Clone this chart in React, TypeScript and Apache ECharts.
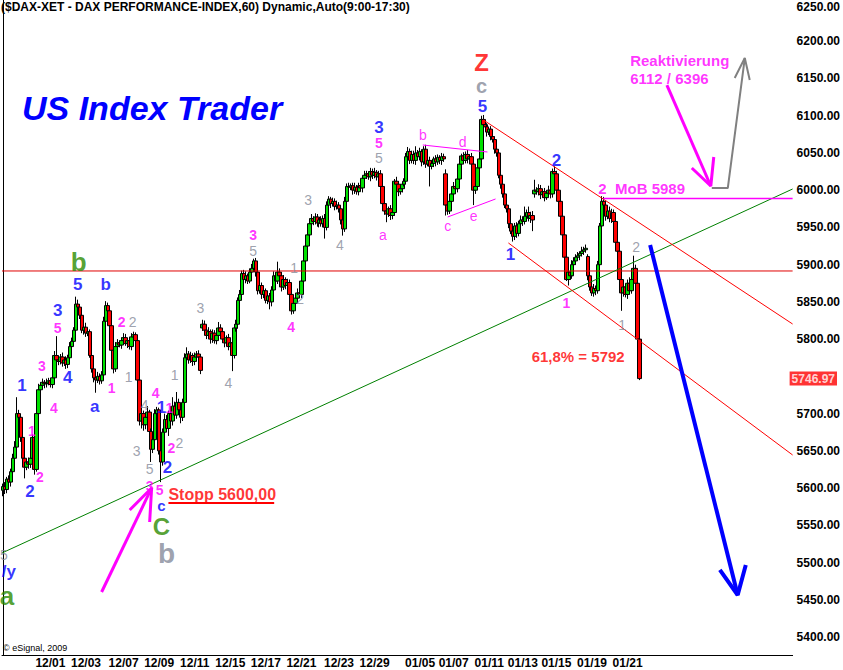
import React, { useEffect, useRef } from "react";
import * as echarts from "echarts";

const FONT = 'Arial, "Liberation Sans", sans-serif';

// hourly closes (one value per bar)
const closes = [
  5602, 5598, 5612, 5608, 5622, 5640, 5655, 5700, 5695, 5668,
  5640, 5628, 5635, 5632, 5640, 5668, 5625, 5700, 5732, 5738,
  5742, 5740, 5741, 5744, 5739, 5748, 5778, 5772, 5770, 5776,
  5768, 5772, 5766, 5775, 5790, 5797, 5812, 5847, 5843, 5832,
  5812, 5816, 5808, 5810, 5778, 5760, 5748, 5745, 5750, 5744,
  5752, 5824, 5845, 5838, 5818, 5785, 5760, 5790, 5795, 5792,
  5798, 5802, 5794, 5798, 5790, 5803, 5806, 5798, 5745, 5690,
  5700, 5685, 5695, 5702, 5676, 5652, 5665, 5700, 5705, 5650,
  5635, 5675, 5692, 5680, 5700, 5690, 5710, 5698, 5715, 5705,
  5695, 5715, 5775, 5780, 5772, 5778, 5770, 5776, 5780, 5776,
  5758, 5820, 5812, 5805, 5810, 5800, 5808, 5798, 5805, 5815,
  5810, 5800, 5795, 5802, 5790, 5795, 5778, 5815, 5820, 5852,
  5860, 5888, 5880, 5885, 5878, 5890, 5895, 5905, 5890, 5865,
  5872, 5860, 5865, 5852, 5858, 5850, 5866, 5885, 5878, 5890,
  5885, 5870, 5880, 5872, 5876, 5860, 5838, 5848, 5855, 5862,
  5860, 5878, 5905, 5925, 5940, 5955, 5962, 5958, 5964, 5956,
  5960, 5955, 5962, 5950, 5980, 5988, 5982, 5985, 5978, 5980,
  5975, 5960, 5948, 5985, 6005, 6004, 6006, 6000, 6004, 5998,
  6006, 6003, 6016, 6020, 6022, 6018, 6025, 6020, 6024, 6018,
  6022, 6005, 5982, 5972, 5968, 5975, 5966, 5970, 6012, 6008,
  5998, 6002, 6008, 6012, 6045, 6052, 6040, 6048, 6040, 6050,
  6045, 6052, 6038, 6055, 6035, 6040, 6032, 6036, 6042, 6038,
  6044, 6040, 6045, 6042, 5980, 5972, 5985, 5995, 6005, 6002,
  6015, 6035, 6046, 6040, 6048, 6042, 6045, 6035, 6000, 6005,
  6030, 6042, 6095, 6088, 6085, 6078, 6082, 6072, 6068, 6055,
  6050, 6020, 6008, 5995, 5980, 5975, 5955, 5945, 5938, 5952,
  5942, 5955, 5960, 5958, 5965, 5970, 5962, 5966, 5960, 6000,
  5998, 6002, 5994, 5998, 5990, 5996, 6000, 5995, 6025, 6022,
  6000, 5985, 5965, 5940, 5910, 5880, 5890, 5885, 5900, 5905,
  5910, 5912, 5915, 5918, 5920, 5922, 5885, 5870, 5862, 5868,
  5865, 5900, 5952, 5985, 5980, 5965, 5972, 5962, 5970, 5958,
  5930, 5918, 5880, 5862, 5870, 5860, 5875, 5865, 5880, 5895,
  5875, 5800, 5746.97,
];

// upper wick length above the body, per bar (points)
const wickUp = [
  4, 6, 3, 5, 4, 6, 8, 22, 5, 4,
  3, 5, 4, 6, 3, 4, 5, 6, 8, 4,
  5, 3, 6, 4, 3, 5, 6, 26, 5, 4,
  6, 3, 5, 4, 6, 5, 4, 10, 6, 4,
  5, 3, 6, 4, 3, 5, 4, 3, 6, 4,
  5, 6, 6, 4, 3, 5, 4, 6, 5, 3,
  4, 6, 5, 3, 4, 5, 4, 3, 4, 5,
  6, 4, 5, 8, 3, 4, 5, 6, 4, 3,
  4, 5, 8, 6, 4, 10, 12, 6, 14, 5,
  4, 5, 6, 9, 4, 5, 3, 6, 4, 5,
  3, 6, 5, 4, 6, 3, 5, 4, 6, 8,
  5, 4, 6, 3, 5, 4, 3, 5, 6, 4,
  6, 4, 5, 6, 3, 5, 6, 3, 4, 5,
  6, 4, 5, 3, 6, 4, 5, 6, 3, 14,
  5, 4, 6, 3, 5, 4, 3, 5, 4, 6,
  5, 4, 6, 5, 4, 5, 6, 3, 5, 4,
  3, 5, 4, 6, 5, 4, 3, 5, 4, 6,
  4, 3, 5, 6, 4, 5, 3, 4, 6, 3,
  4, 5, 3, 6, 4, 3, 5, 4, 6, 3,
  4, 5, 3, 4, 6, 3, 5, 4, 3, 6,
  4, 5, 3, 4, 5, 6, 4, 5, 5, 9,
  4, 5, 3, 4, 6, 3, 5, 4, 3, 5,
  4, 3, 5, 4, 6, 3, 5, 4, 6, 3,
  5, 4, 3, 5, 4, 6, 3, 5, 4, 3,
  5, 4, 5, 6, 4, 5, 3, 4, 5, 4,
  6, 4, 5, 3, 4, 5, 4, 3, 5, 4,
  5, 4, 6, 5, 13, 4, 8, 5, 6, 14,
  4, 6, 5, 3, 5, 4, 6, 5, 4, 7,
  4, 5, 3, 4, 5, 3, 5, 4, 6, 5,
  4, 5, 3, 6, 4, 5, 3, 4, 5, 6,
  4, 5, 4, 7, 6, 5, 4, 6, 5, 4,
  3, 4, 5, 3, 6, 4, 5, 8, 10, 17,
  5, 3, 2,
];

// lower wick length below the body, per bar (points)
const wickDn = [
  8, 6, 5, 4, 6, 5, 3, 4, 5, 6,
  5, 15, 4, 6, 5, 4, 7, 3, 4, 5,
  4, 6, 5, 3, 4, 5, 4, 6, 5, 4,
  5, 4, 6, 5, 4, 3, 5, 4, 3, 5,
  4, 6, 5, 4, 3, 5, 6, 17, 4, 5,
  4, 3, 5, 6, 4, 5, 6, 4, 5, 3,
  5, 4, 3, 6, 4, 5, 3, 4, 5, 6,
  10, 8, 6, 5, 4, 17, 5, 4, 3, 5,
  27, 5, 6, 4, 10, 5, 6, 4, 5, 6,
  8, 5, 4, 3, 5, 4, 6, 5, 4, 5,
  5, 4, 6, 5, 4, 6, 5, 4, 5, 6,
  4, 5, 6, 4, 5, 6, 21, 4, 5, 6,
  5, 4, 6, 5, 4, 3, 5, 4, 6, 5,
  4, 6, 5, 4, 5, 10, 6, 4, 5, 4,
  5, 6, 4, 5, 6, 4, 5, 4, 5, 6,
  4, 5, 3, 4, 5, 4, 6, 5, 4, 5,
  6, 4, 5, 15, 4, 5, 6, 4, 5, 4,
  5, 6, 9, 4, 5, 3, 4, 6, 5, 4,
  5, 4, 6, 3, 5, 4, 6, 5, 4, 5,
  4, 5, 6, 5, 11, 4, 6, 5, 4, 5,
  6, 4, 5, 3, 4, 6, 5, 4, 5, 6,
  4, 5, 6, 4, 5, 3, 27, 4, 5, 6,
  4, 5, 6, 4, 14, 5, 4, 6, 5, 4,
  5, 4, 6, 5, 4, 6, 5, 4, 20, 5,
  4, 6, 5, 4, 5, 6, 4, 5, 4, 6,
  5, 4, 6, 5, 4, 5, 6, 4, 7, 5,
  6, 4, 5, 6, 4, 5, 4, 6, 15, 5,
  4, 5, 6, 4, 5, 3, 4, 6, 5, 4,
  5, 4, 6, 5, 4, 2, 8, 5, 4, 6,
  5, 4, 6, 4, 5, 4, 6, 5, 4, 5,
  6, 4, 5, 4, 5, 6, 4, 5, 6, 4,
  5, 4, 6, 24, 5, 4, 6, 5, 4, 5,
  4, 6, 2,
];

const firstOpen = 5597;
const gapOpens: Record<number, number> = { 101: 5815, 224: 6022, 269: 5995, 296: 5911 };
const lastPrice = 5746.97;

const categoryCount = 400;
const dateLabels = ["12/01", "12/03", "12/07", "12/09", "12/11", "12/15", "12/17", "12/21", "12/23", "12/29", "01/05", "01/07", "01/11", "01/13", "01/15", "01/19", "01/21"];
const dateLabelIdx = [24, 42, 61, 79, 97, 115, 133, 151, 170, 188, 211, 228, 246, 263, 280, 298, 316];
const yTicks = [5400, 5450, 5500, 5550, 5600, 5650, 5700, 5800, 5850, 5900, 5950, 6000, 6050, 6100, 6150, 6200, 6250];

// annotations: [text, bar position, price]
type Ann = [string, number, number];
const blueWaves: Ann[] = [
  ["1", 9.6, 5738], ["2", 13.6, 5595], ["3", 27.7, 5838], ["5", 37.8, 5873], ["4", 32.8, 5748],
  ["a", 46.4, 5710], ["b", 52, 5874], ["1", 80.2, 5707.5], ["2", 83.2, 5627],
  ["3", 190.2, 6084.8], ["5", 242.6, 6113], ["2", 280, 6039.2], ["1", 256.7, 5913], ["/y", 3, 5488.5],
];
const blueSmall: Ann[] = [["c", 80.2, 5575.9]];
const pinkWaves: Ann[] = [
  ["1", 14.6, 5676.6], ["2", 18.7, 5614.9], ["3", 19.7, 5763.9], ["4", 25.7, 5707.5], ["5", 27.7, 5814.9],
  ["1", 55, 5734.4], ["2", 60, 5823], ["4", 77.2, 5727.7], ["1", 84.2, 5707.5], ["2", 85.2, 5653.8],
  ["3", 74.2, 5602.8], ["5", 79.2, 5597.3], ["3", 126.6, 5939.8], ["4", 145.8, 5816.3], ["5", 190.2, 6063.3],
  ["1", 285, 5848.5],
];
const pinkLetters: Ann[] = [
  ["a", 192.2, 5939.8], ["b", 212.4, 6074.1], ["d", 232.5, 6064.7], ["c", 225, 5951.9], ["e", 238.1, 5965.3],
];
const greyWaves: Ann[] = [
  ["1", 63.6, 5749.1], ["2", 65.6, 5823], ["3", 67.6, 5649.8], ["4", 71.6, 5711.5], ["5", 74.2, 5626],
  ["2", 89.3, 5660.5], ["1", 86.8, 5751.8], ["3", 99.9, 5841.8], ["4", 114, 5741], ["5", 126.6, 5918.4],
  ["1", 147.3, 5895.5], ["2", 150.3, 5853.9], ["3", 154.4, 5986.8], ["4", 170.5, 5926.4], ["5", 190.2, 6043.2],
  ["2", 320.3, 5923.7], ["1", 313.2, 5819], ["5", 0.5, 5510],
];
const greenBig: Ann[] = [["b", 38.3, 5903.6], ["a", 2.0, 5455]];
const greenC: Ann[] = [["C", 80.2, 5547.7]];
const greyBig: Ann[] = [["b", 82.7, 5511.5]];
const greyTopC: Ann[] = [["c", 242.1, 6139.9]];
const redBig: Ann[] = [["Z", 242.1, 6170.8]];
const redNoteCenter: Ann[] = [["61,8% = 5792", 291, 5776]];
const redNoteLeft: Ann[] = [["Stopp 5600,00", 83.7, 5590.7]];
const pinkNotesLeft: Ann[] = [
  ["2  MoB 5989", 301.2, 6002.9], ["Reaktivierung", 317.3, 6174.8], ["6112 / 6396", 317.3, 6150.6],
];
const priceTag: Ann[] = [["5746.97", 399.5, lastPrice]];

// lines: [bar position, price]
const horizLine = [[-0.5, 5891.5], [399.5, 5891.5]];
const greenTrend = [[-0.5, 5512.8], [399.5, 6001.6]];
const channelUpper = [[243.1, 6094.2], [399.5, 5820.3]];
const channelLower = [[255.7, 5929.1], [399.5, 5644.4]];
const triUpper = [[212.4, 6060.7], [245.1, 6051.3]];
const triLower = [[225, 5964], [249.2, 5988.2]];
const mobLine = [[303.7, 5989], [399.5, 5989]];
const stoppUnderline = [[83.7, 5580], [137.2, 5580]];
const pinkArrowTop = [[335.9, 6141.2], [358.1, 6005.6]];
const pinkArrowTopHead = [[348.5, 6029.8], [358.1, 6005.6], [359.6, 6044.6]];
const greyArrow = [[358.6, 6002.9], [366.7, 6002.9], [375.3, 6177.5]];
const greyArrowHead = [[370.2, 6150.6], [375.3, 6177.5], [377.8, 6147.9]];
const blueArrow = [[327.4, 5926.4], [371.7, 5456.4]];
const blueArrowHead = [[362.7, 5490], [371.7, 5456.4], [375.8, 5496.7]];
const pinkArrowLow = [[49.9, 5460.4], [75.2, 5600.1]];
const pinkArrowLowHead = [[64.1, 5570.5], [75.2, 5600.1], [74.2, 5554.4]];

function labelSeries(items: Ann[], style: any, position: string = "inside", distance: number = 0) {
  return {
    type: "scatter",
    xAxisIndex: 1,
    yAxisIndex: 0,
    symbolSize: 0,
    silent: true,
    clip: false,
    z: 6,
    data: items.map(([t, i, p]) => ({ name: t, value: [i, p] })),
    label: { show: true, position, distance, formatter: "{b}", fontFamily: FONT, lineHeight: style.fontSize, ...style },
    emphasis: { disabled: true },
  };
}

function segSeries(points: number[][], color: string, width: number) {
  return {
    type: "line",
    xAxisIndex: 1,
    yAxisIndex: 0,
    data: points,
    symbol: "none",
    silent: true,
    z: 4,
    lineStyle: { color, width },
    emphasis: { disabled: true },
  };
}

export default function App() {
  const ref = useRef<HTMLDivElement>(null);
  useEffect(() => {
    if (!ref.current) return;
    const chart = echarts.init(ref.current, null, { renderer: "svg" });

    const candles = closes.map((c, i) => {
      const o = i === 0 ? firstOpen : gapOpens[i] ?? closes[i - 1];
      const hi = Math.max(o, c) + wickUp[i];
      const lo = Math.min(o, c) - wickDn[i];
      return [o, c, lo, hi];
    });
    const cats = Array.from({ length: categoryCount }, (_, i) => String(i));
    const labelMap: Record<number, string> = {};
    dateLabelIdx.forEach((idx, k) => (labelMap[idx] = dateLabels[k]));

    const option: any = {
      animation: false,
      backgroundColor: "#ffffff",
      grid: { left: 0, right: 50, top: 0, bottom: 15, containLabel: false },
      xAxis: [
        {
          type: "category",
          data: cats,
          boundaryGap: true,
          axisLine: { show: true, lineStyle: { color: "#000", width: 1 } },
          axisTick: { show: false },
          splitLine: { show: false },
          axisLabel: {
            interval: 0,
            margin: 2,
            formatter: (_v: string, idx: number) => labelMap[idx] ?? "",
            color: "#000",
            fontWeight: "bold",
            fontSize: 12,
            fontFamily: FONT,
          },
        },
        { type: "value", min: -0.5, max: 399.5, show: false, splitLine: { show: false } },
      ],
      yAxis: {
        type: "value",
        position: "right",
        min: 5375.8,
        max: 6255.4,
        scale: true,
        splitLine: { show: false },
        axisLine: { show: true, lineStyle: { color: "#000", width: 1 } },
        axisTick: { show: false },
        axisLabel: {
          customValues: yTicks,
          margin: 4,
          color: "#000",
          fontWeight: "bold",
          fontSize: 12,
          fontFamily: FONT,
          formatter: (v: number) => (v === 6250 ? "{t|6250.00}" : v.toFixed(2)),
          rich: { t: { padding: [6, 0, 0, 0], color: "#000", fontWeight: "bold", fontSize: 12, fontFamily: FONT } },
        },
      },
      graphic: [
        {
          type: "text",
          x: 1,
          y: 1,
          style: {
            text: "($DAX-XET - DAX PERFORMANCE-INDEX,60) Dynamic,Auto(9:00-17:30)",
            fill: "#000",
            font: `bold 12px ${FONT}`,
            verticalAlign: "top",
          },
        },
        {
          type: "text",
          x: 22,
          y: 108,
          style: {
            text: "US Index Trader",
            fill: "#0000ff",
            font: `italic bold 34px ${FONT}`,
            verticalAlign: "middle",
          },
        },
        {
          type: "text",
          x: 3,
          y: 648,
          style: { text: "© eSignal, 2009", fill: "#000", font: `9px ${FONT}`, verticalAlign: "middle" },
        },
      ],
      series: [
        segSeries(horizLine, "#e00000", 1),
        segSeries(greenTrend, "#008000", 1),
        segSeries(channelUpper, "#ff0000", 1),
        segSeries(channelLower, "#ff0000", 1),
        segSeries(triUpper, "#ff00ff", 1),
        segSeries(triLower, "#ff00ff", 1),
        {
          type: "candlestick",
          data: candles,
          barWidth: 4,
          z: 3,
          silent: true,
          itemStyle: {
            color: "#00e000",
            color0: "#ff0000",
            borderColor: "#000",
            borderColor0: "#000",
            borderWidth: 1,
          },
        },
        segSeries(mobLine, "#ff00ff", 1.5),
        segSeries(stoppUnderline, "#ff0000", 2),
        segSeries(pinkArrowTop, "#ff00ff", 3),
        segSeries(pinkArrowTopHead, "#ff00ff", 3),
        segSeries(greyArrow, "#808080", 2),
        segSeries(greyArrowHead, "#808080", 2),
        segSeries(blueArrow, "#0000ff", 4),
        segSeries(blueArrowHead, "#0000ff", 4),
        segSeries(pinkArrowLow, "#ff00ff", 3),
        segSeries(pinkArrowLowHead, "#ff00ff", 3),
        labelSeries(blueWaves, { color: "#0000ff", fontSize: 17, fontWeight: "bold" }),
        labelSeries(blueSmall, { color: "#0000ff", fontSize: 15, fontWeight: "bold" }),
        labelSeries(pinkWaves, { color: "#ff00ff", fontSize: 14, fontWeight: "bold" }),
        labelSeries(pinkLetters, { color: "#ff00ff", fontSize: 14 }),
        labelSeries(greyWaves, { color: "#858a99", fontSize: 14 }),
        labelSeries(greenBig, { color: "#2a8a00", fontSize: 26, fontWeight: "bold" }),
        labelSeries(greenC, { color: "#2a8a00", fontSize: 24, fontWeight: "bold" }),
        labelSeries(greyBig, { color: "#858a99", fontSize: 28, fontWeight: "bold" }),
        labelSeries(greyTopC, { color: "#858a99", fontSize: 20, fontWeight: "bold" }),
        labelSeries(redBig, { color: "#ff0000", fontSize: 24, fontWeight: "bold" }),
        labelSeries(redNoteCenter, { color: "#ff0000", fontSize: 15, fontWeight: "bold" }),
        labelSeries(redNoteLeft, { color: "#ff0000", fontSize: 16, fontWeight: "bold" }, "right"),
        labelSeries(pinkNotesLeft, { color: "#ff00ff", fontSize: 15, fontWeight: "bold" }, "right"),
        labelSeries(
          priceTag,
          {
            color: "#ffffff",
            fontSize: 12,
            fontWeight: "bold",
            backgroundColor: "#ff0000",
            padding: [1, 2, 1, 2],
          },
          "right",
          -3
        ),
      ],
    };
    chart.setOption(option);
    return () => chart.dispose();
  }, []);
  return (
    <div
      ref={ref}
      style={{ position: "fixed", left: 0, top: 0, width: 843, height: 670, background: "#ffffff" }}
    />
  );
}
